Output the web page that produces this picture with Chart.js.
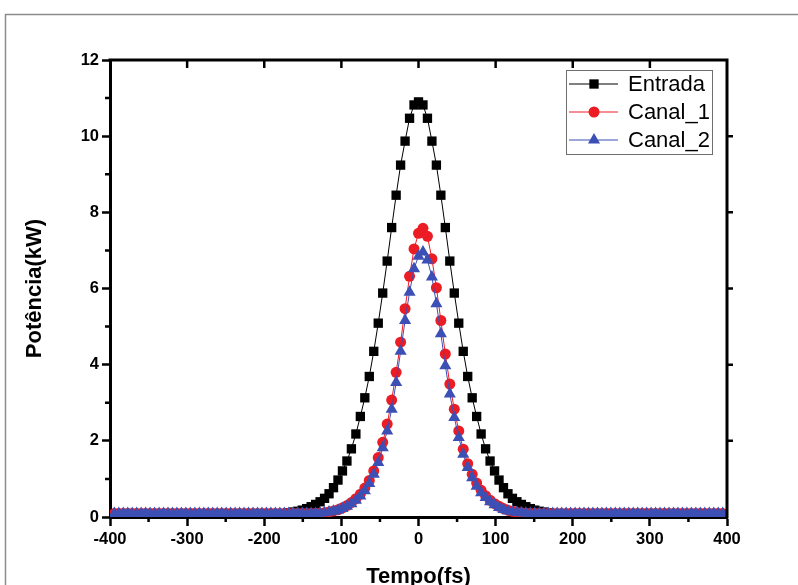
<!DOCTYPE html>
<html>
<head>
<meta charset="utf-8">
<script src="https://cdn.jsdelivr.net/npm/chart.js@4.4.0/dist/chart.umd.min.js"></script>
<style>
  html, body { margin: 0; padding: 0; background: #fff; }
  canvas { display: block; }
</style>
</head>
<body>
<canvas id="pulso" width="798" height="585"></canvas>
<script>
// tempo (fs) de cada amostra
const tempoFs = [
  -394.4, -388.6, -382.8, -377, -371.2, -365.4, -359.6, -353.8, -348, -342.2,
  -336.4, -330.6, -324.8, -319, -313.2, -307.4, -301.6, -295.8, -290, -284.2,
  -278.4, -272.6, -266.8, -261, -255.2, -249.4, -243.6, -237.8, -232, -226.2,
  -220.4, -214.6, -208.8, -203, -197.2, -191.4, -185.6, -179.8, -174, -168.2,
  -162.4, -156.6, -150.8, -145, -139.2, -133.4, -127.6, -121.8, -116, -110.2,
  -104.4, -98.6, -92.8, -87, -81.2, -75.4, -69.6, -63.8, -58, -52.2,
  -46.4, -40.6, -34.8, -29, -23.2, -17.4, -11.6, -5.8,
  0,
  5.8, 11.6, 17.4, 23.2, 29, 34.8, 40.6, 46.4,
  52.2, 58, 63.8, 69.6, 75.4, 81.2, 87, 92.8, 98.6, 104.4,
  110.2, 116, 121.8, 127.6, 133.4, 139.2, 145, 150.8, 156.6, 162.4,
  168.2, 174, 179.8, 185.6, 191.4, 197.2, 203, 208.8, 214.6, 220.4,
  226.2, 232, 237.8, 243.6, 249.4, 255.2, 261, 266.8, 272.6, 278.4,
  284.2, 290, 295.8, 301.6, 307.4, 313.2, 319, 324.8, 330.6, 336.4,
  342.2, 348, 353.8, 359.6, 365.4, 371.2, 377, 382.8, 388.6, 394.4
];

// potência (kW)
const entrada = [
  0.04, 0.04, 0.04, 0.04, 0.04, 0.04, 0.04, 0.04, 0.04, 0.04,
  0.04, 0.04, 0.04, 0.04, 0.04, 0.04, 0.04, 0.04, 0.04, 0.04,
  0.04, 0.04, 0.04, 0.04, 0.04, 0.04, 0.04, 0.04, 0.04, 0.04,
  0.04, 0.04, 0.04, 0.04,
  0.05, 0.06, 0.07, 0.08, 0.09, 0.11, 0.13, 0.15, 0.18, 0.22,
  0.27, 0.33, 0.40, 0.49, 0.61, 0.77, 0.97, 1.21, 1.47, 1.79,
  2.18, 2.64, 3.13, 3.69, 4.35, 5.09, 5.88, 6.72, 7.6, 8.45,
  9.24, 9.87, 10.47, 10.82,
  10.9,
  10.82, 10.47, 9.87, 9.24,
  8.45, 7.6, 6.72, 5.88, 5.09, 4.35, 3.69, 3.13, 2.64, 2.18,
  1.79, 1.47, 1.21, 0.97, 0.77, 0.61, 0.49, 0.40, 0.33, 0.27,
  0.22, 0.18, 0.15, 0.13, 0.11, 0.09, 0.08, 0.07, 0.06, 0.05,
  0.04, 0.04, 0.04, 0.04, 0.04, 0.04, 0.04, 0.04, 0.04, 0.04,
  0.04, 0.04, 0.04, 0.04, 0.04, 0.04, 0.04, 0.04, 0.04, 0.04,
  0.04, 0.04, 0.04, 0.04, 0.04, 0.04, 0.04, 0.04, 0.04, 0.04,
  0.04, 0.04, 0.04, 0.04
];

const canal1 = [
  0.09, 0.09, 0.09, 0.09, 0.09, 0.09, 0.09, 0.09, 0.09, 0.09,
  0.09, 0.09, 0.09, 0.09, 0.09, 0.09, 0.09, 0.09, 0.09, 0.09,
  0.09, 0.09, 0.09, 0.09, 0.09, 0.09, 0.09, 0.09, 0.09, 0.09,
  0.09, 0.09, 0.09, 0.09, 0.09, 0.09, 0.09, 0.09, 0.09, 0.09,
  0.09, 0.09, 0.09, 0.09, 0.09, 0.09,
  0.10, 0.11, 0.13, 0.16, 0.19, 0.24, 0.30, 0.38, 0.48, 0.60,
  0.76, 0.96, 1.21, 1.56, 1.96, 2.44, 3.07, 3.8, 4.59, 5.47,
  6.32, 7.04,
  7.45,
  7.58, 7.37, 6.78, 6.02, 5.16, 4.28, 3.49, 2.83, 2.26, 1.78,
  1.40, 1.12, 0.89, 0.70, 0.56, 0.44, 0.35, 0.28, 0.22, 0.18,
  0.15, 0.12, 0.11, 0.10,
  0.09, 0.09, 0.09, 0.09, 0.09, 0.09, 0.09, 0.09, 0.09, 0.09,
  0.09, 0.09, 0.09, 0.09, 0.09, 0.09, 0.09, 0.09, 0.09, 0.09,
  0.09, 0.09, 0.09, 0.09, 0.09, 0.09, 0.09, 0.09, 0.09, 0.09,
  0.09, 0.09, 0.09, 0.09, 0.09, 0.09, 0.09, 0.09, 0.09, 0.09,
  0.09, 0.09, 0.09, 0.09
];

const canal2 = [
  0.09, 0.09, 0.09, 0.09, 0.09, 0.09, 0.09, 0.09, 0.09, 0.09,
  0.09, 0.09, 0.09, 0.09, 0.09, 0.09, 0.09, 0.09, 0.09, 0.09,
  0.09, 0.09, 0.09, 0.09, 0.09, 0.09, 0.09, 0.09, 0.09, 0.09,
  0.09, 0.09, 0.09, 0.09, 0.09, 0.09, 0.09, 0.09, 0.09, 0.09,
  0.09, 0.09, 0.09, 0.09, 0.09, 0.09,
  0.10, 0.11, 0.13, 0.15, 0.18, 0.22, 0.28, 0.35, 0.44, 0.55,
  0.69, 0.88, 1.12, 1.43, 1.82, 2.26, 2.83, 3.53, 4.35, 5.16,
  5.9, 6.52,
  6.85,
  6.96, 6.75, 6.3, 5.6, 4.81, 3.97, 3.23, 2.61, 2.09, 1.65,
  1.30, 1.03, 0.81, 0.64, 0.51, 0.40, 0.32, 0.25, 0.20, 0.16,
  0.14, 0.12, 0.11, 0.10,
  0.09, 0.09, 0.09, 0.09, 0.09, 0.09, 0.09, 0.09, 0.09, 0.09,
  0.09, 0.09, 0.09, 0.09, 0.09, 0.09, 0.09, 0.09, 0.09, 0.09,
  0.09, 0.09, 0.09, 0.09, 0.09, 0.09, 0.09, 0.09, 0.09, 0.09,
  0.09, 0.09, 0.09, 0.09, 0.09, 0.09, 0.09, 0.09, 0.09, 0.09,
  0.09, 0.09, 0.09, 0.09
];

const nomes = ['Entrada', 'Canal_1', 'Canal_2'];
const xTicks = [-400, -300, -200, -100, 0, 100, 200, 300, 400];
const xMinor = [-350, -250, -150, -50, 50, 150, 250, 350];
const yTicks = [0, 2, 4, 6, 8, 10, 12];
const yMinor = [1, 3, 5, 7, 9, 11];

const FONTE = '"Liberation Sans", Arial, sans-serif';
const PRETO = '#000000';
const VERMELHO = '#ec1c24';
const AZUL = '#3c4fb4';

function pontos(ys) {
  return tempoFs.map((t, i) => ({ x: t, y: ys[i] }));
}

// moldura, ticks menores e legenda
const molduraPlugin = {
  id: 'moldura',
  beforeDraw(chart) {
    const ctx = chart.ctx;
    ctx.save();
    ctx.strokeStyle = '#8c8c8c';
    ctx.lineWidth = 1.5;
    ctx.strokeRect(5.5, 14.5, 900, 700);
    ctx.restore();
  },
  afterDraw(chart) {
    const { ctx, chartArea: a, scales } = chart;
    const x = scales.x, y = scales.y;
    ctx.save();
    ctx.strokeStyle = '#000';
    ctx.lineWidth = 3;
    ctx.beginPath();
    ctx.moveTo(a.left - 1.5, a.top);
    ctx.lineTo(a.right, a.top);
    ctx.lineTo(a.right, a.bottom + 1.5);
    ctx.stroke();

    ctx.lineWidth = 2.5;
    ctx.beginPath();
    xMinor.forEach(v => {
      const px = x.getPixelForValue(v);
      ctx.moveTo(px, a.bottom); ctx.lineTo(px, a.bottom + 5);
    });
    yMinor.forEach(v => {
      const py = y.getPixelForValue(v);
      ctx.moveTo(a.left, py); ctx.lineTo(a.left - 5, py);
    });
    // eixos superior e direito
    xTicks.slice(1, -1).forEach(v => {
      const px = x.getPixelForValue(v);
      ctx.moveTo(px, a.top); ctx.lineTo(px, a.top + 8);
    });
    yTicks.slice(1, -1).forEach(v => {
      const py = y.getPixelForValue(v);
      ctx.moveTo(a.right, py); ctx.lineTo(a.right + 6, py);
    });
    ctx.stroke();

    // legenda
    const bx = 566.5, by = 70.5, bw = 146, bh = 84;
    ctx.fillStyle = '#fff';
    ctx.fillRect(bx, by, bw, bh);
    ctx.strokeStyle = '#6e6e6e';
    ctx.lineWidth = 1;
    ctx.strokeRect(bx, by, bw, bh);
    ctx.font = '22px ' + FONTE;
    ctx.textBaseline = 'middle';
    chart.data.datasets.forEach(ds => {
      const row = nomes.indexOf(ds.label);
      const ry = 84 + row * 28;
      ctx.strokeStyle = ds.borderColor;
      ctx.lineWidth = 1;
      ctx.beginPath();
      ctx.moveTo(569, ry); ctx.lineTo(618, ry);
      ctx.stroke();
      ctx.fillStyle = ds.pointBackgroundColor;
      Chart.helpers.drawPoint(ctx, {
        pointStyle: ds.pointStyle, radius: ds.pointRadius, rotation: 0, borderWidth: 0
      }, 594, ry);
      ctx.fillStyle = '#000';
      ctx.fillText(ds.label, 628, ry + 1);
    });
    ctx.restore();
  }
};

new Chart(document.getElementById('pulso'), {
  type: 'line',
  data: {
    datasets: [
      {
        label: nomes[0], data: pontos(entrada), order: 3,
        borderColor: PRETO, borderWidth: 1, pointStyle: 'rect', pointRadius: 6.6,
        pointBackgroundColor: PRETO, pointBorderWidth: 0, clip: 0
      },
      {
        label: nomes[1], data: pontos(canal1), order: 2,
        borderColor: VERMELHO, borderWidth: 1, pointStyle: 'circle', pointRadius: 5.5,
        pointBackgroundColor: VERMELHO, pointBorderWidth: 0, clip: 0
      },
      {
        label: nomes[2], data: pontos(canal2), order: 1,
        borderColor: AZUL, borderWidth: 1, pointStyle: 'triangle', pointRadius: 7,
        pointBackgroundColor: AZUL, pointBorderWidth: 0, clip: 0
      }
    ]
  },
  options: {
    responsive: false,
    animation: false,
    devicePixelRatio: 1,
    layout: { padding: { left: 0, right: 71, top: 60, bottom: 0 } },
    plugins: { legend: { display: false }, tooltip: { enabled: false } },
    scales: {
      x: {
        type: 'linear', min: -400, max: 400, z: 1,
        afterBuildTicks: s => { s.ticks = xTicks.map(v => ({ value: v })); },
        afterFit: s => { s.height = 68; },
        ticks: {
          color: '#000', padding: 4, maxRotation: 0, autoSkip: false,
          font: { family: FONTE, size: 16.5, weight: 'bold' }
        },
        grid: { drawOnChartArea: false, drawTicks: true, tickLength: 9, tickWidth: 2.5, tickColor: '#000' },
        border: { display: true, width: 3, color: '#000' },
        title: {
          display: true, text: 'Tempo(fs)', color: '#000',
          font: { family: FONTE, size: 22, weight: 'bold', lineHeight: 1 },
          padding: { top: 0, bottom: -3 }
        }
      },
      y: {
        type: 'linear', min: 0, max: 12, z: 1,
        afterBuildTicks: s => { s.ticks = yTicks.map(v => ({ value: v })); },
        afterFit: s => { s.width = 110; },
        ticks: {
          color: '#000', padding: 3,
          font: { family: FONTE, size: 16.5, weight: 'bold' }
        },
        grid: { drawOnChartArea: false, drawTicks: true, tickLength: 8, tickWidth: 2.5, tickColor: '#000' },
        border: { display: true, width: 3, color: '#000' },
        title: {
          display: true, text: 'Potência(kW)', color: '#000',
          font: { family: FONTE, size: 22, weight: 'bold', lineHeight: 1 },
          padding: { top: 23.5, bottom: 0 }
        }
      }
    }
  },
  plugins: [molduraPlugin]
});
</script>
</body>
</html>
